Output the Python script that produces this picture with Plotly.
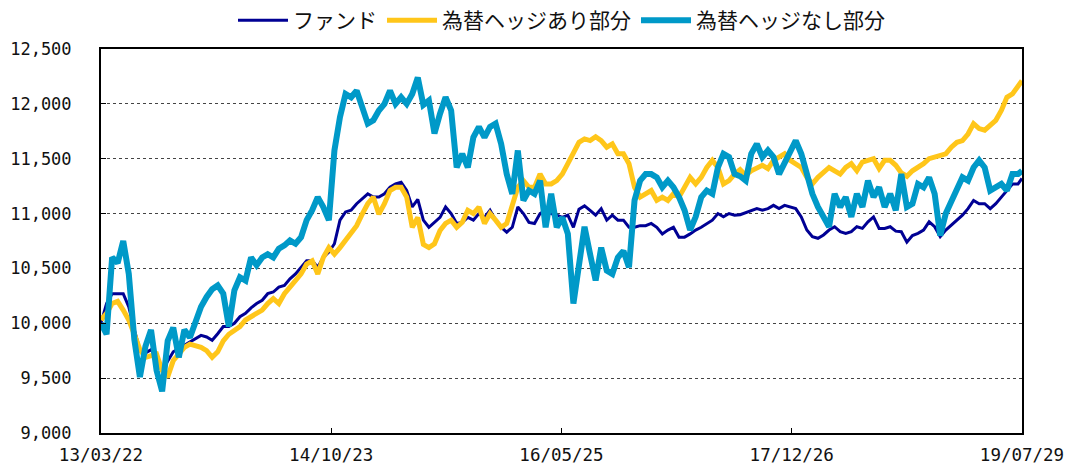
import pandas as pd
import plotly.graph_objects as go

# Biweekly observation dates, plus the final valuation date
dates = list(pd.date_range("2013-03-22", periods=166, freq="14D")) + [pd.Timestamp("2019-07-29")]

fund = [
    10000, 10180, 10270, 10270, 10270, 10150, 9940, 9760, 9730, 9760,
    9690, 9570, 9660, 9740, 9770, 9800, 9830, 9860, 9890, 9875,
    9845, 9905, 9970, 9970, 10000, 10060, 10090, 10140, 10180, 10210,
    10270, 10285, 10330, 10345, 10405, 10450, 10510, 10570, 10570, 10510,
    10600, 10650, 10725, 10940, 11015, 11030, 11090, 11135, 11180, 11150,
    11150, 11180, 11240, 11270, 11285, 11210, 11060, 11130, 10940, 10875,
    10920, 10965, 11060, 11000, 10910, 10920, 10965, 10940, 11000, 10965,
    11030, 10940, 10875, 10830, 10875, 11060, 11000, 10920, 10910, 11000,
    11030, 11000, 10985, 10965, 10985, 10875, 11040, 11070, 11030, 10985,
    11045, 10940, 10985, 10940, 10940, 10875, 10875, 10890, 10890, 10910,
    10875, 10815, 10850, 10875, 10785, 10785, 10815, 10850, 10875, 10910,
    10940, 11000, 10970, 11000, 10985, 10990, 11010, 11030, 11045, 11030,
    11045, 11075, 11045, 11075, 11060, 11045, 10970, 10850, 10790, 10775,
    10805, 10850, 10880, 10835, 10820, 10835, 10880, 10865, 10925, 10970,
    10865, 10865, 10880, 10840, 10835, 10740, 10800, 10820, 10850, 10925,
    10880, 10790, 10850, 10895, 10940, 10985, 11045, 11120, 11090, 11090,
    11045, 11090, 11150, 11210, 11270, 11270, 11320,
]

hedged = [
    10030, 10090, 10180, 10200, 10120, 10030, 9900, 9760, 9690, 9700,
    9720, 9570, 9510, 9660, 9720, 9780, 9810, 9800, 9780, 9750,
    9690, 9740, 9840, 9900, 9940, 9970, 10030, 10060, 10090, 10120,
    10180, 10225, 10180, 10270, 10330, 10390, 10450, 10540, 10570, 10450,
    10600, 10690, 10630, 10690, 10755, 10815, 10890, 10995, 11090, 11150,
    10995, 11090, 11210, 11240, 11240, 11150, 10875, 10965, 10720, 10690,
    10725, 10845, 10910, 10940, 10875, 10920, 11030, 11000, 11060, 10910,
    11000, 10940, 10875, 10910, 11090, 11240, 11300, 11240, 11240, 11360,
    11270, 11270, 11300, 11360, 11455, 11545, 11650, 11680, 11665, 11700,
    11665, 11605, 11635, 11545, 11545, 11455, 11240, 11150, 11180, 11210,
    11120, 11150, 11120, 11180, 11150, 11240, 11330, 11270, 11330, 11420,
    11485, 11420, 11270, 11300, 11360, 11400, 11350, 11390, 11420, 11440,
    11410, 11485, 11515, 11545, 11485, 11455, 11420, 11330, 11270, 11330,
    11375, 11420, 11390, 11360, 11420, 11455, 11390, 11470, 11485, 11500,
    11410, 11485, 11485, 11440, 11370, 11340, 11390, 11420, 11455, 11500,
    11515, 11530, 11545, 11605, 11650, 11665, 11725, 11820, 11775, 11760,
    11805, 11850, 11940, 12060, 12090, 12150, 12210,
]

unhedged = [
    10000, 9900, 10600, 10550, 10750, 10450, 9850, 9510, 9790, 9940,
    9570, 9380, 9840, 9960, 9690, 9940, 9870, 10030, 10150, 10240,
    10310, 10345, 10270, 9970, 10300, 10420, 10390, 10600, 10530, 10600,
    10630, 10600, 10680, 10710, 10755, 10725, 10785, 10940, 11030, 11150,
    11060, 10940, 11575, 11880, 12090, 12060, 12120, 11970, 11820, 11850,
    11940, 12000, 12120, 12000, 12060, 12000, 12090, 12240, 11990, 12030,
    11730, 11910, 12060, 11940, 11420, 11545, 11420, 11695, 11790, 11695,
    11790, 11820, 11635, 11360, 11180, 11575, 11120, 11210, 11180, 11300,
    10875, 11180, 10875, 10965, 10815, 10180, 10510, 10880, 10630, 10390,
    10690, 10480, 10450, 10600, 10660, 10510, 11120, 11300, 11360, 11360,
    11330, 11240, 11300, 11240, 11150, 11030, 10850, 10970, 11150, 11210,
    11180, 11420, 11545, 11515, 11360, 11340, 11300, 11545, 11635, 11515,
    11575, 11515, 11360, 11455, 11545, 11665, 11545, 11360, 11180, 11060,
    10970, 10880, 11180, 11060, 11150, 10970, 11180, 11060, 11300, 11150,
    11240, 11060, 11180, 11030, 11360, 11060, 11090, 11270, 11240, 11330,
    11180, 10800, 11000, 11120, 11240, 11330, 11300, 11420, 11485, 11420,
    11210, 11240, 11270, 11210, 11360, 11360, 11390,
]

series_names = ["ファンド", "為替ヘッジあり部分", "為替ヘッジなし部分"]
series_colors = ["#000094", "#FFC61A", "#0099C8"]
series_widths = [3, 5, 6]

x_tick_dates = ["2013-03-22", "2014-10-23", "2016-05-25", "2017-12-26", "2019-07-29"]
x_tick_labels = ["13/03/22", "14/10/23", "16/05/25", "17/12/26", "19/07/29"]
y_tick_values = [9000, 9500, 10000, 10500, 11000, 11500, 12000, 12500]
y_tick_labels = ["9,000", "9,500", "10,000", "10,500", "11,000", "11,500", "12,000", "12,500"]

fig = go.Figure()
for name, values, color, width in zip(series_names, [fund, hedged, unhedged],
                                      series_colors, series_widths):
    fig.add_trace(go.Scatter(
        x=dates, y=values, mode="lines", name=name,
        line=dict(color=color, width=width),
    ))

fig.update_layout(
    width=1066, height=470,
    margin=dict(l=101, r=44, t=49, b=37, autoexpand=False),
    paper_bgcolor="white", plot_bgcolor="white",
    showlegend=True,
    legend=dict(
        orientation="h", x=0.5, xanchor="center", xref="paper",
        y=1.0, yanchor="top", yref="container",
        font=dict(family="Noto Sans CJK JP", size=21, color="#111111"),
        itemwidth=50, tracegroupgap=0,
    ),
    xaxis=dict(
        type="date", automargin=False,
        range=["2013-03-22", "2019-07-29"],
        tickvals=x_tick_dates, ticktext=x_tick_labels,
        ticks="inside", ticklen=5, tickcolor="black",
        showgrid=False, zeroline=False,
        showline=True, linecolor="black", linewidth=2, mirror=True,
        tickfont=dict(family="DejaVu Sans Mono", size=17.5, color="#111111"),
        ticklabelstandoff=5, ticklabeloverflow="allow",
    ),
    yaxis=dict(
        automargin=False,
        range=[9000, 12500],
        tickvals=y_tick_values, ticktext=y_tick_labels,
        ticks="inside", ticklen=5, tickcolor="black",
        showgrid=True, gridcolor="#444444", gridwidth=1, griddash="dot",
        zeroline=False,
        showline=True, linecolor="black", linewidth=2, mirror=True,
        tickfont=dict(family="DejaVu Sans Mono", size=17, color="#111111"),
        ticklabelstandoff=24, ticklabeloverflow="allow",
    ),
)

fig.write_html("out.html")
